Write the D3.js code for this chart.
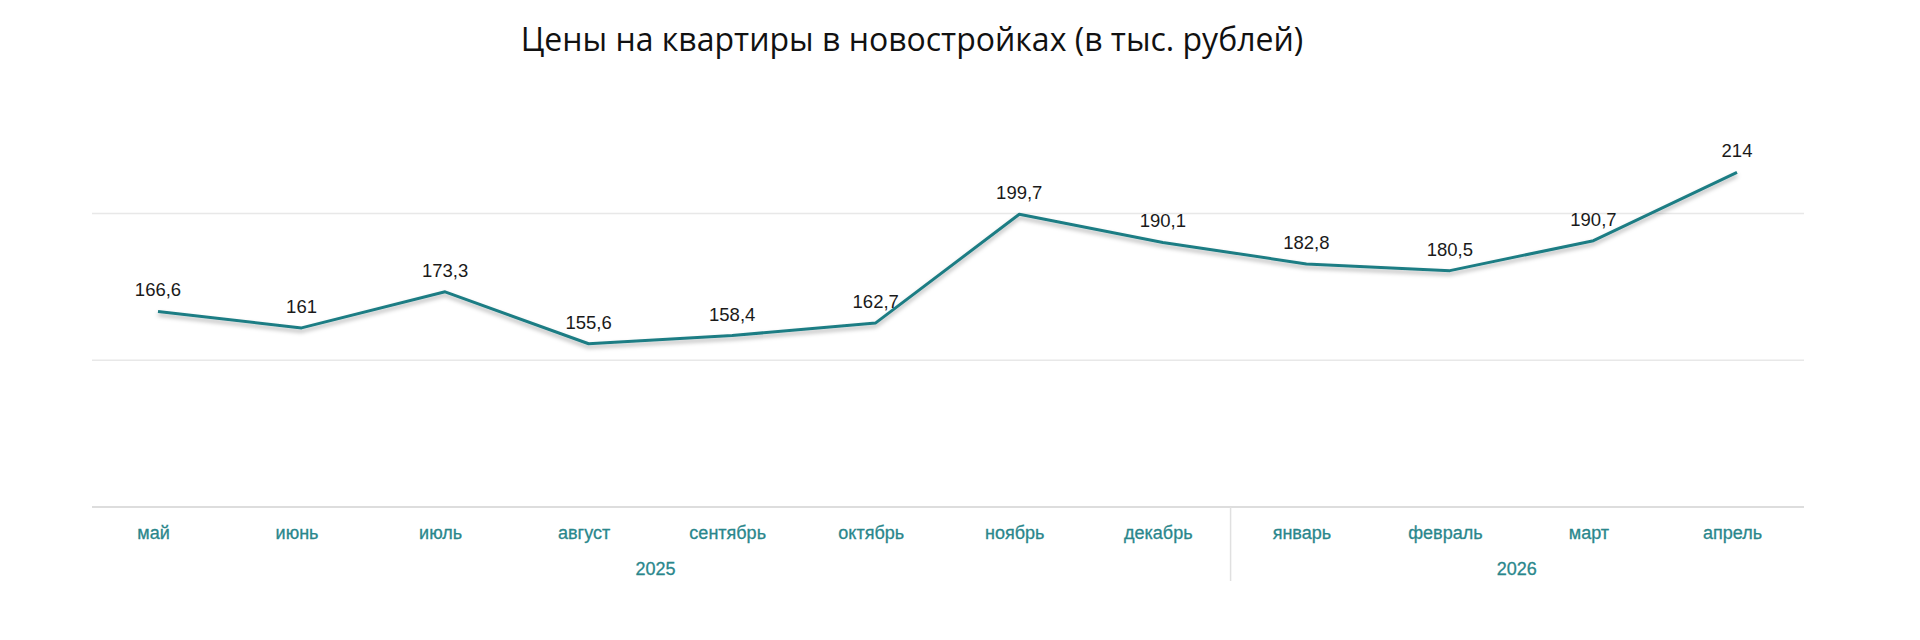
<!DOCTYPE html>
<html><head><meta charset="utf-8">
<script src="https://cdn.jsdelivr.net/npm/d3@7"></script>
<style>
html,body{margin:0;padding:0;background:#fff;}
svg{display:block;}
</style></head>
<body>
<svg id="chart" width="1920" height="640"></svg>
<script>
const title = "Цены на квартиры в новостройках (в тыс. рублей)";
const months = ["май","июнь","июль","август","сентябрь","октябрь","ноябрь","декабрь","январь","февраль","март","апрель"];
const values = [166.6, 161, 173.3, 155.6, 158.4, 162.7, 199.7, 190.1, 182.8, 180.5, 190.7, 214];
const labels = ["166,6","161","173,3","155,6","158,4","162,7","199,7","190,1","182,8","180,5","190,7","214"];
const years = ["2025","2026"];
const yearStart = [0, 8];
const yearEnd = [7, 11];
const yTicks = [100, 150, 200];

(function(){
const svg = d3.select("#chart");
const mLeft = 92, mRight = 1804, mBottom = 507;

const x = d3.scalePoint().domain(months).range([158, 1737]);
const y = d3.scaleLinear().domain([100, 250]).range([mBottom, mBottom - 3*146.8]);

svg.append("text").attr("x", 912).attr("y", 51).attr("text-anchor","middle")
  .attr("font-family","'Open Sans','Noto Sans',sans-serif").attr("font-size",32)
  .attr("fill","#111").text(title);

svg.append("g").selectAll("line").data(yTicks.filter(d=>d>100)).join("line")
  .attr("x1", mLeft).attr("x2", mRight).attr("y1", d=>y(d)).attr("y2", d=>y(d))
  .attr("stroke","#e8e8e8").attr("stroke-width",1.5);

const xAxis = d3.axisBottom(x).tickSize(0).tickPadding(0);
const gx = svg.append("g").attr("transform",`translate(0,${mBottom})`).call(xAxis);
gx.select(".domain").attr("d", `M${mLeft},0H${mRight}`).attr("stroke","#dddddd").attr("stroke-width",2);
gx.selectAll(".tick text").attr("dx",-5).attr("y",32).attr("dy",0)
  .attr("font-family","'Liberation Sans Narrow','Arial Narrow',sans-serif").attr("font-size",18)
  .attr("fill","#2a878c").attr("stroke","#2a878c").attr("stroke-width",0.3);

const sepX = (x(months[7]) + x(months[8]))/2 - 4;
svg.append("line").attr("x1",sepX).attr("x2",sepX).attr("y1",mBottom).attr("y2",581)
  .attr("stroke","#e0e0e0").attr("stroke-width",1.5);

svg.append("g").selectAll("text").data(years).join("text")
  .attr("x",(d,i)=>(x(months[yearStart[i]]) + x(months[yearEnd[i]]))/2 - 5)
  .attr("y",575).attr("text-anchor","middle")
  .attr("font-family","'Liberation Sans Narrow','Arial Narrow',sans-serif").attr("font-size",18)
  .attr("fill","#2a878c").attr("stroke","#2a878c").attr("stroke-width",0.3).text(d=>d);

const defs = svg.append("defs");
const f = defs.append("filter").attr("id","sh").attr("x","-5%").attr("y","-20%").attr("width","110%").attr("height","160%");
f.append("feDropShadow").attr("dx",0).attr("dy",3).attr("stdDeviation",2).attr("flood-color","#000").attr("flood-opacity",0.3);

const line = d3.line().x((d,i)=>x(months[i])).y(d=>y(d));
svg.append("path").datum(values).attr("d",line).attr("fill","none")
  .attr("stroke","#1f7d84").attr("stroke-width",3).attr("stroke-linejoin","round")
  .attr("filter","url(#sh)");

svg.append("g").selectAll("text").data(values).join("text")
  .attr("x",(d,i)=>x(months[i])).attr("y",d=>y(d)-15).attr("text-anchor","middle")
  .attr("font-family","'Liberation Sans Narrow','Arial Narrow',sans-serif").attr("font-size",18.5)
  .attr("fill","#1a1a1a").text((d,i)=>labels[i]);
})();
</script>
</body></html>
